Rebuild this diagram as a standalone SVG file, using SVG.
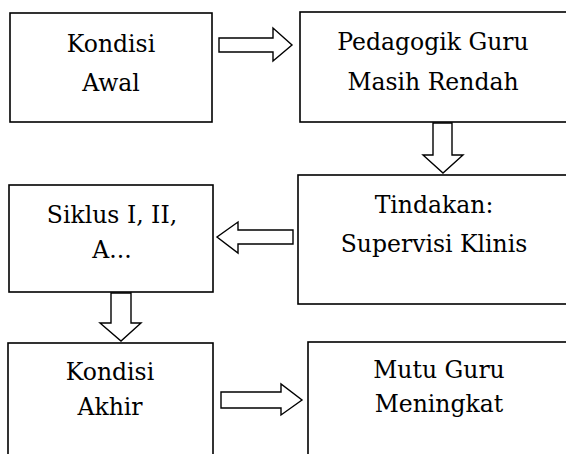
<svg xmlns="http://www.w3.org/2000/svg" width="566" height="454" viewBox="0 0 566 454">
<style>
.box{fill:#fff;stroke:#000;stroke-width:1.6}
.arr{fill:#fff;stroke:#000;stroke-width:1.4;stroke-linejoin:miter}
</style>
<rect width="566" height="454" fill="#fff"/>
<g font-family="'DejaVu Serif', 'Liberation Serif', serif" font-size="23.5" text-anchor="middle" fill="#000">
<g id="n1"><rect class="box" x="10" y="13" width="202" height="109"/><text x="111" y="52">Kondisi</text><text x="111" y="91">Awal</text></g>
<g id="n2"><rect class="box" x="300" y="12" width="280" height="110"/><text x="433" y="50">Pedagogik Guru</text><text x="433" y="90">Masih Rendah</text></g>
<g id="n3"><rect class="box" x="298" y="175" width="280" height="129"/><text x="434" y="213">Tindakan:</text><text x="434" y="252">Supervisi Klinis</text></g>
<g id="n4"><rect class="box" x="9" y="185" width="204" height="107"/><text x="112" y="223">Siklus I, II,</text><text x="112" y="258">A...</text></g>
<g id="n5"><rect class="box" x="8" y="343" width="205" height="130"/><text x="110" y="380">Kondisi</text><text x="110" y="415">Akhir</text></g>
<g id="n6"><rect class="box" x="308" y="342" width="270" height="130"/><text x="439" y="378">Mutu Guru</text><text x="439" y="412">Meningkat</text></g>
</g>
<g id="connectors">
<polygon class="arr" points="219,38 273,38 273,28 292,45 273,61 273,52 219,52"/>
<polygon class="arr" points="433,123 452,123 452,155 463,155 443,173 423,155 433,155"/>
<polygon class="arr" points="293,230 238,230 238,222 217,237 238,253 238,244 293,244"/>
<polygon class="arr" points="111,293 131,293 131,323 141,323 121,341 100,323 111,323"/>
<polygon class="arr" points="221,392 281,392 281,384 302,400 281,415 281,408 221,408"/>
</g>
</svg>
